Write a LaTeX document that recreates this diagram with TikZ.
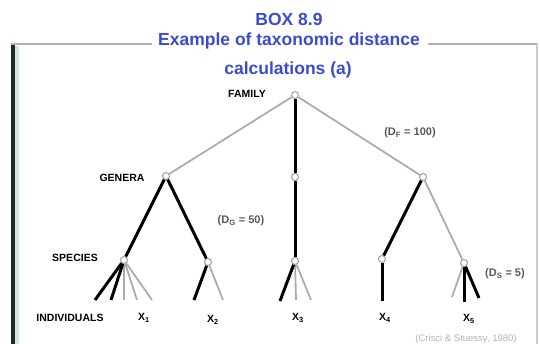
\documentclass[tikz,border=0pt]{standalone}
\usepackage{fontspec}
\setmainfont{Liberation Sans}
\definecolor{titleblue}{HTML}{3A4BD0}
\definecolor{barcol}{HTML}{1C2B2B}
\definecolor{stripcol}{HTML}{D6E6E2}
\begin{document}
\begin{tikzpicture}[x=1pt,y=-1pt,
  nd/.style={circle,draw=gray!75,fill=white,line width=1pt,inner sep=0pt,minimum size=7pt},
  blk/.style={line width=3pt,black},
  gry/.style={line width=1.8pt,gray!65},
  lvl/.style={font=\bfseries\fontsize{10.5}{12}\selectfont},
  xlab/.style={font=\bfseries\fontsize{10.5}{12}\selectfont},
  dlab/.style={font=\bfseries\fontsize{11}{13}\selectfont,text=black!65},
  ttl/.style={font=\bfseries\fontsize{17.5}{20}\selectfont,text=titleblue},
  frame/.style={line width=2pt,gray!60}]
\useasboundingbox (0,0) rectangle (540,344);
% frame
\fill[barcol] (11,44) rectangle (15,344);
\fill[stripcol] (15,46) rectangle (19,344);
\coordinate (fl) at (11,44);
\coordinate (fm1) at (152,44);
\coordinate (fm2) at (428,44);
\coordinate (fr) at (538,44);
\coordinate (frb) at (537,344);
\draw[frame] (fl) -- (fm1);
\draw[frame] (fm2) -- (fr);
\draw[line width=1.5pt,gray!40] (537,44) -- (frb);
% title
\node[ttl] (t1) at (289,19) {BOX 8.9};
\node[ttl] (t2) at (289,41) {Example of taxonomic distance};
\node[ttl] (t3) at (288,70) {calculations (a)};
% tree nodes
\node[nd] (F) at (295,95) {};
\node[nd] (G1) at (166,176) {};
\node[nd] (G2) at (295,177) {};
\node[nd] (G3) at (423,177) {};
\node[nd] (S1) at (124,260) {};
\node[nd] (S2) at (208,262) {};
\node[nd] (S3) at (295,261) {};
\node[nd] (S4) at (382,259) {};
\node[nd] (S5) at (464,263) {};
% individual ends
\coordinate (i11) at (95,300);
\coordinate (i12) at (111,300);
\coordinate (i13) at (124,300);
\coordinate (i14) at (137,300);
\coordinate (i15) at (152,300);
\coordinate (i21) at (194,300);
\coordinate (i22) at (223,300);
\coordinate (i31) at (280,301);
\coordinate (i32) at (296,300);
\coordinate (i33) at (311,300);
\coordinate (i41) at (382,301);
\coordinate (i51) at (452,297);
\coordinate (i52) at (464,302);
\coordinate (i53) at (479,298);
% family to genera
\draw[gry] (F) -- (G1);
\draw[blk] (F) -- (G2);
\draw[gry] (F) -- (G3);
% genera to species
\draw[blk] (G1) -- (S1);
\draw[blk] (G1) -- (S2);
\draw[blk] (G2) -- (S3);
\draw[blk] (G3) -- (S4);
\draw[gry] (G3) -- (S5);
% species to individuals
\draw[gry] (S1) -- (i13);
\draw[gry] (S1) -- (i14);
\draw[gry] (S1) -- (i15);
\draw[blk] (S1) -- (i11);
\draw[blk] (S1) -- (i12);
\draw[blk] (S2) -- (i21);
\draw[gry] (S2) -- (i22);
\draw[gry] (S3) -- (i32);
\draw[gry] (S3) -- (i33);
\draw[blk] (S3) -- (i31);
\draw[blk] (S4) -- (i41);
\draw[gry] (S5) -- (i51);
\draw[blk] (S5) -- (i52);
\draw[blk] (S5) -- (i53);
% level labels
\node[lvl] (lF) at (247,94) {FAMILY};
\node[lvl] (lG) at (122,178) {GENERA};
\node[lvl] (lS) at (75,258) {SPECIES};
\node[lvl] (lI) at (70,318) {INDIVIDUALS};
% individuals
\node[xlab] (x1) at (144,318) {X\textsubscript{1}};
\node[xlab] (x2) at (213,320) {X\textsubscript{2}};
\node[xlab] (x3) at (298,318) {X\textsubscript{3}};
\node[xlab] (x4) at (385,318) {X\textsubscript{4}};
\node[xlab] (x5) at (469,319) {X\textsubscript{5}};
% distance labels
\node[dlab] (dF) at (410,133) {(D\textsubscript{F} = 100)};
\node[dlab] (dG) at (241,221) {(D\textsubscript{G} = 50)};
\node[dlab] (dS) at (505,274) {(D\textsubscript{S} = 5)};
% citation
\node[font=\fontsize{9.5}{11}\selectfont,text=gray!60] (cit) at (466,339) {(Crisci \& Stuessy, 1980)};
\end{tikzpicture}
\end{document}
